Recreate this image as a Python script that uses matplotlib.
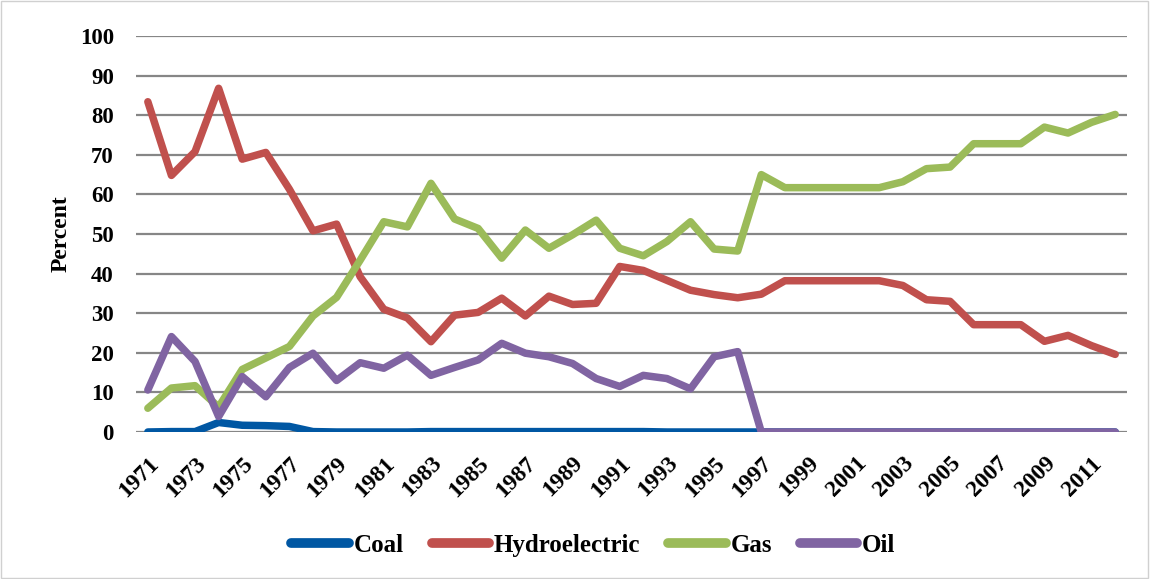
import numpy as np
import matplotlib.pyplot as plt
from matplotlib.patches import Rectangle

years = list(range(1971, 2013))

coal = [0, 0.1, 0.1, 2.4, 1.7, 1.6, 1.4, 0.1, 0, 0, 0, 0, 0.1, 0.1, 0.1,
        0.1, 0.1, 0.1, 0.1, 0.1, 0.1, 0.1, 0, 0, 0, 0, 0,
        0, 0, 0, 0, 0, 0, 0, 0, 0, 0, 0, 0, 0, 0, 0]
hydro = [83.4, 64.8, 70.8, 86.8, 68.9, 70.6, 61.3, 50.8, 52.5, 39.2, 31.0, 28.8, 22.8, 29.5,
         30.2, 33.8, 29.3, 34.3, 32.2, 32.5, 41.8, 40.8, 38.3, 35.8, 34.7, 33.9, 34.8,
         38.2, 38.2, 38.2, 38.2, 38.2, 37.0, 33.4, 33.0, 27.1, 27.1, 27.1, 22.9, 24.4, 21.8, 19.6]
gas = [6.0, 11.1, 11.7, 6.3, 15.8, 18.7, 21.6, 29.3, 34.0, 43.4, 53.1, 51.8, 62.8, 53.8,
       51.4, 43.9, 51.0, 46.4, 49.8, 53.5, 46.4, 44.5, 48.1, 53.1, 46.2, 45.7, 65.0,
       61.7, 61.7, 61.7, 61.7, 61.7, 63.2, 66.5, 66.9, 72.8, 72.8, 72.8, 77.0, 75.5, 78.2, 80.2]
oil = [10.6, 24.1, 17.8, 3.9, 14.0, 8.9, 16.3, 19.9, 13.0, 17.5, 16.1, 19.4, 14.3, 16.3,
       18.2, 22.4, 19.9, 19.0, 17.3, 13.5, 11.5, 14.3, 13.5, 10.9, 19.0, 20.3, 0,
       0, 0, 0, 0, 0, 0, 0, 0, 0, 0, 0, 0, 0, 0, 0]

series = [("Coal", coal, "#0057a3"), ("Hydroelectric", hydro, "#c0504d"),
          ("Gas", gas, "#9bbb59"), ("Oil", oil, "#8064a2")]

plt.rcParams['font.family'] = ['Liberation Serif', 'DejaVu Serif']
plt.rcParams['font.weight'] = 'bold'

fig = plt.figure(figsize=(11.5, 5.79), dpi=100)
ax = fig.add_axes([0.1183, 0.2539, 0.8617, 0.6839])

for name, vals, col in series:
    ax.plot(years, vals, color=col, lw=5.4, label=name, solid_capstyle='round',
            solid_joinstyle='round', zorder=3)

ax.set_xlim(1970.5, 2012.5)
ax.set_ylim(0, 100)
ax.set_yticks(np.arange(0, 101, 10))
ax.set_xticks(years[::2])
ax.set_xticklabels([str(y) for y in years[::2]], rotation=45, ha='right', va='top',
                   rotation_mode='anchor', fontsize=17, fontweight='bold')
for t in ax.get_yticklabels():
    t.set_fontsize(16.5)
    t.set_fontweight('bold')
ax.tick_params(length=0)
ax.tick_params(axis='y', pad=16)
ax.tick_params(axis='x', pad=15)
ax.grid(axis='y', color='#868686', lw=1.6, zorder=1)
for s in ax.spines.values():
    s.set_visible(False)
ax.set_ylabel("Percent", fontsize=17, fontweight='bold', labelpad=6)

leg = fig.legend(loc='center', bbox_to_anchor=(0.516, 0.0587), ncol=4, frameon=False,
                 fontsize=18, handlelength=2.3, columnspacing=1.1, handletextpad=0.2)
for h in leg.get_lines():
    h.set_linewidth(7)

fig.patches.append(Rectangle((0.001, 0.002), 0.997, 0.996, transform=fig.transFigure,
                             fill=False, ec='#d0d0d0', lw=1))

fig.savefig("out.png", dpi=100)
